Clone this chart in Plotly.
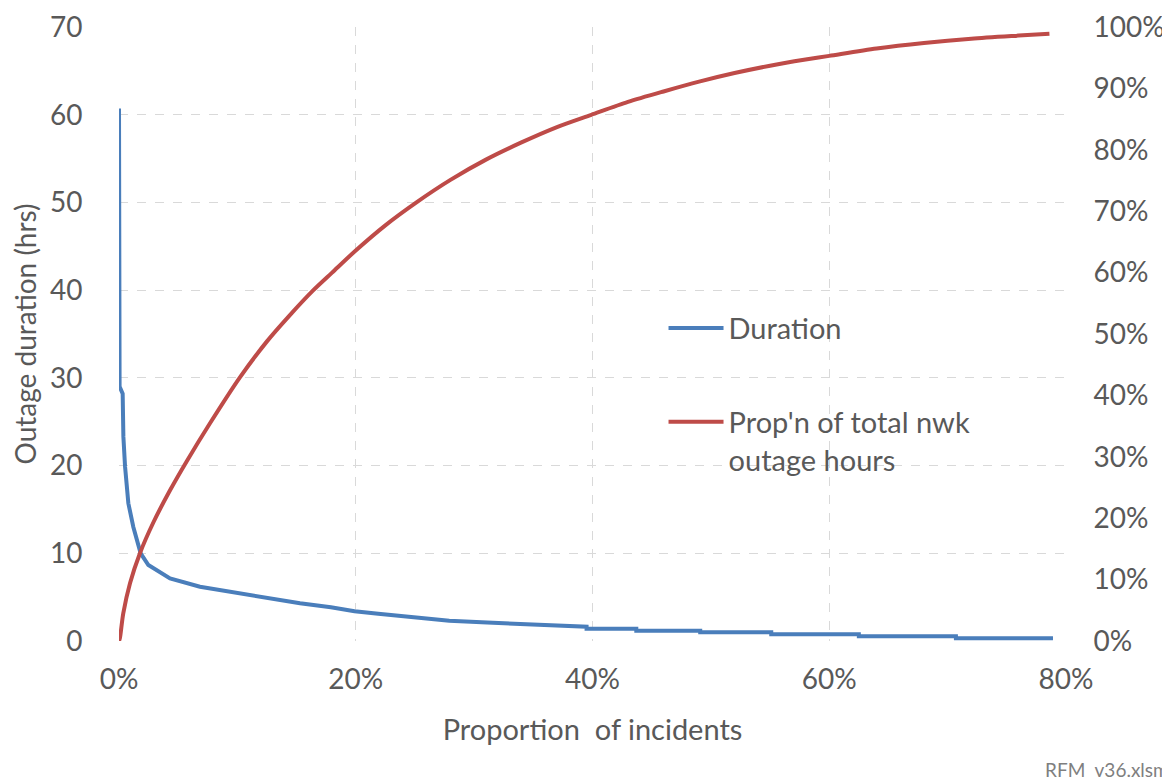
import plotly.graph_objects as go

# Duration (hrs) vs proportion of incidents (%)
dur_x = [0, 0.05, 0.31, 0.37, 0.51, 0.79, 1.21, 1.83, 2.48, 4.31, 6.84, 11.07, 15.29, 17.9, 19.9,
         21.9, 23.9, 25.9, 27.9, 31.1, 34.3, 37.9, 39.5, 39.5, 43.7, 43.7, 49.1, 49.1, 55.1, 55.1,
         62.5, 62.5, 70.7, 70.7, 78.9]
dur_y = [60.7, 29.0, 28.2, 23.3, 19.9, 15.7, 13.0, 10.0, 8.66, 7.14, 6.19, 5.24, 4.30, 3.85, 3.4,
         3.1, 2.8, 2.5, 2.3, 2.1, 1.9, 1.65, 1.63, 1.4, 1.4, 1.18, 1.18, 0.99, 0.99, 0.76,
         0.76, 0.53, 0.53, 0.3, 0.3]

# Cumulative proportion of total network outage hours (%)
cum_x = [0, 0.08, 0.36, 0.93, 1.77, 2.9, 4.3, 5.7, 7.7, 10.2, 12.5, 14.4, 16.4, 18.0, 20.0, 22.5,
         25.1, 28.0, 31.0, 34.0, 37.0, 39.9, 43.0, 46.0, 49.0, 52.0, 55.0, 58.0, 60.0, 64.0, 68.0,
         72.0, 76.0, 78.6]
cum_y = [0, 0.5, 4.5, 9.4, 14.3, 19.3, 24.5, 29.2, 35.5, 42.9, 48.8, 53.0, 57.1, 60.0, 63.6, 67.7,
         71.4, 75.1, 78.4, 81.2, 83.7, 85.7, 87.8, 89.5, 91.1, 92.5, 93.7, 94.7, 95.3, 96.5, 97.4,
         98.1, 98.6, 98.9]

FONT = "Lato"
TXT = "#595959"
GRID = "#D9D9D9"

fig = go.Figure()
fig.add_trace(go.Scatter(
    x=[v / 100 for v in dur_x], y=dur_y, mode="lines", name="Duration",
    line=dict(color="#4A7EBB", width=4), legendgroup="a"))
fig.add_trace(go.Scatter(
    x=[v / 100 for v in cum_x], y=[v / 100 for v in cum_y], mode="lines",
    name="Prop'n of total nwk<br>outage hours", yaxis="y2",
    line=dict(color="#BE4B48", width=4, shape="spline", smoothing=0.8), legendgroup="b"))

fig.update_layout(
    width=1170, height=780,
    margin=dict(l=111, r=112, t=19, b=147, autoexpand=False),
    paper_bgcolor="white", plot_bgcolor="white",
    font=dict(family=FONT, size=28, color=TXT),
    showlegend=True,
    legend=dict(x=0.575, y=0.551, xanchor="left", yanchor="top",
                bgcolor="rgba(0,0,0,0)", font=dict(size=29, color=TXT),
                tracegroupgap=53, valign="top", itemwidth=55, traceorder="grouped"),
    xaxis=dict(range=[0, 0.8], dtick=0.2, tickformat=".0%", automargin=False,
               showgrid=True, gridcolor=GRID, griddash="dash", gridwidth=1,
               zeroline=False, showline=False,
               ticks="outside", ticklen=13, tickcolor="rgba(0,0,0,0)",
               title=dict(text="Proportion&nbsp;&nbsp;of incidents", standoff=26,
                          font=dict(size=29, color=TXT))),
    yaxis=dict(range=[0, 70], dtick=10, automargin=False,
               showgrid=True, gridcolor=GRID, griddash="dash", gridwidth=1,
               zeroline=False, showline=False,
               ticks="outside", ticklen=30, tickcolor="rgba(0,0,0,0)",
               title=dict(text="Outage duration (hrs)", standoff=6,
                          font=dict(size=28, color=TXT))),
    yaxis2=dict(range=[0, 1], dtick=0.1, tickformat=".0%", overlaying="y", side="right",
                automargin=False, showgrid=False, zeroline=False, showline=False,
                ticks="outside", ticklen=21, tickcolor="rgba(0,0,0,0)"),
    annotations=[dict(text="RFM&nbsp;&nbsp;v36.xlsm", xref="paper", yref="paper",
                      x=0.9757, y=-0.21, xanchor="left", yanchor="middle", showarrow=False,
                      font=dict(size=19, color="#7F7F7F", family=FONT))],
)

fig.write_html("out.html")
